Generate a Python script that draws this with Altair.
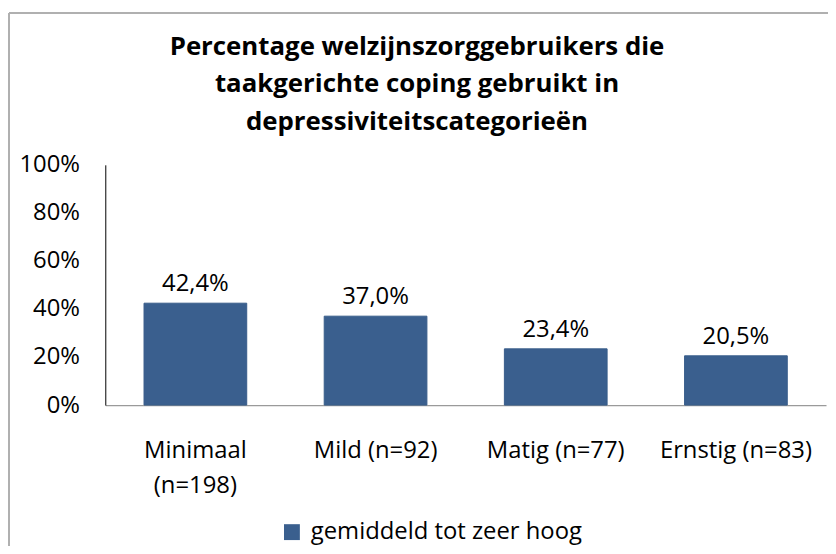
import altair as alt
import pandas as pd

categories = ["Minimaal\n(n=198)", "Mild (n=92)", "Matig (n=77)", "Ernstig (n=83)"]
values = [42.4, 37.0, 23.4, 20.5]
series_name = "gemiddeld tot zeer hoog"
y_ticks = [0, 20, 40, 60, 80, 100]
title_lines = ["Percentage welzijnszorggebruikers die",
               "taakgerichte coping gebruikt in",
               "depressiviteitscategorieën"]

df = pd.DataFrame({"cat": categories, "val": values, "series": series_name})
FONT = "Open Sans"
FS = 24
BAR = "#3A5F8E"

base = alt.Chart(df).encode(
    x=alt.X("cat:N", sort=categories, title=None,
            scale=alt.Scale(paddingInner=0.43, paddingOuter=0.215),
            axis=alt.Axis(labelAngle=0, labelExpr="split(datum.value, '\\n')",
                          labelFontSize=FS, labelFont=FONT, labelColor="#000",
                          labelPadding=34, labelLineHeight=35, ticks=False,
                          domainColor="#9a9a9a", domainWidth=1.3, grid=False)),
)

bars = base.mark_bar(color=BAR, stroke="#385D8A", strokeWidth=1).encode(
    y=alt.Y("val:Q", title=None, scale=alt.Scale(domain=[0, 100]),
            axis=alt.Axis(values=y_ticks, labelExpr="datum.value + '%'",
                          labelFontSize=FS, labelFont=FONT, labelColor="#000",
                          labelPadding=26, ticks=False, grid=False,
                          domainColor="#000", domainWidth=1)),
    color=alt.Color("series:N", scale=alt.Scale(range=[BAR]),
                    legend=alt.Legend(title=None, orient="none", legendX=176, legendY=358,
                                      symbolType="square", symbolSize=256,
                                      symbolStrokeWidth=0, labelFontSize=FS,
                                      labelFont=FONT, labelColor="#000", padding=0,
                                      labelOffset=7, labelLimit=500)),
)

labels = base.mark_text(fontSize=FS, font=FONT, color="#000", dy=-19, baseline="middle").transform_calculate(
    lab="replace(format(datum.val, '.1f'), '.', ',') + '%'"
).encode(y="val:Q", text="lab:N")

title_df = pd.DataFrame({"t": [title_lines]})
title = alt.Chart(title_df).mark_text(font=FONT, fontSize=26, fontWeight="bold", color="#000",
                                      lineHeight=38, baseline="middle", align="center").encode(
    x=alt.value(314), y=alt.value(-119), text="t")

border_left = alt.Chart(df).mark_rule(color="#b0b0b0", strokeWidth=2, clip=False).encode(
    x=alt.value(-97), y=alt.value(-153), y2=alt.value(400))
border_top = alt.Chart(df).mark_rule(color="#b0b0b0", strokeWidth=2, clip=False).encode(
    x=alt.value(-97), x2=alt.value(740), y=alt.value(-153))

chart = alt.layer(bars, labels, title, border_left, border_top).properties(
    width=726, height=242,
    padding={"left": 98, "top": 156, "right": 2, "bottom": 140},
    autosize=alt.AutoSizeParams(type="none"),
).configure_view(stroke=None)

chart.save("out.html", embed_options={"renderer": "svg", "actions": False})
